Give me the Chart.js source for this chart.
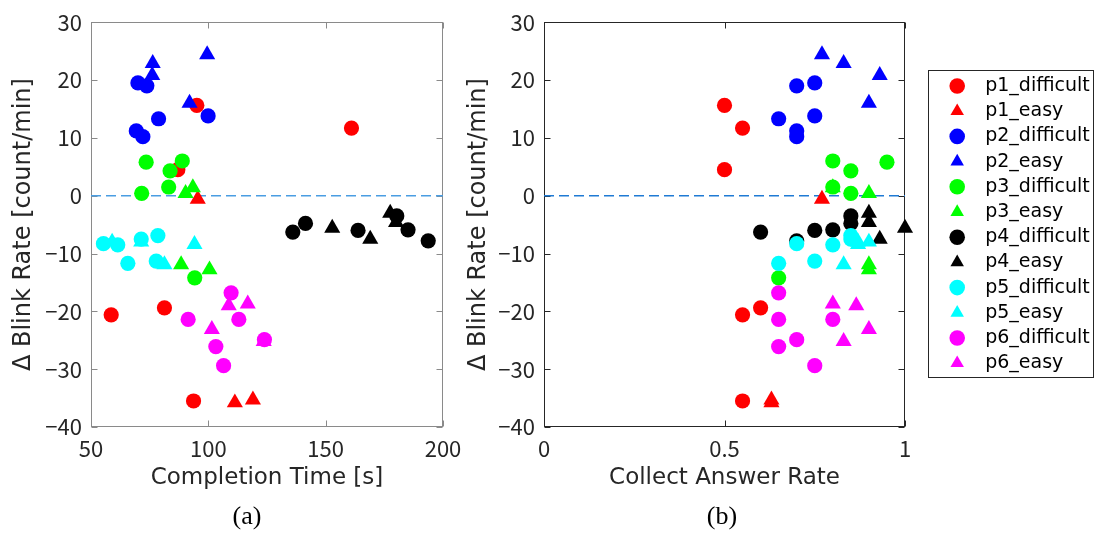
<!DOCTYPE html>
<html>
<head>
<meta charset="utf-8">
<script src="https://cdn.jsdelivr.net/npm/chart.js@4.4.1/dist/chart.umd.min.js"></script>
<style>
  html, body { margin: 0; padding: 0; background: #fff; }
  #wrap { position: relative; width: 1097px; height: 533px; overflow: hidden; }
  canvas { position: absolute; top: 0; }
  #grafico1 { left: 0; }
  #grafico2 { left: 450px; }
  .cap { position: absolute; top: 499px; width: 100px; text-align: center;
         font: 26px "Liberation Serif", "Times New Roman", serif; line-height: 34px; color: #000; }
</style>
</head>
<body>
<div id="wrap">
  <canvas id="grafico1" width="470" height="533"></canvas>
  <canvas id="grafico2" width="647" height="533"></canvas>
  <div class="cap" style="left:197px">(a)</div>
  <div class="cap" style="left:672px">(b)</div>
</div>
<script>
// series (same order as the legend)
const seriesNames = ['p1_difficult', 'p1_easy', 'p2_difficult', 'p2_easy', 'p3_difficult', 'p3_easy',
                     'p4_difficult', 'p4_easy', 'p5_difficult', 'p5_easy', 'p6_difficult', 'p6_easy'];
const seriesColors = ['#ff0000', '#ff0000', '#0000ff', '#0000ff', '#00ff00', '#00ff00',
                      '#000000', '#000000', '#00ffff', '#00ffff', '#ff00ff', '#ff00ff'];
const seriesShapes = ['circle', 'triangle', 'circle', 'triangle', 'circle', 'triangle',
                      'circle', 'triangle', 'circle', 'triangle', 'circle', 'triangle'];

// completion time [s], one row per series
const completionTime = [
  [95.1, 161, 87, 58.6, 81.3, 93.7],
  [95.5, 111.3, 119],
  [70, 73.8, 78.8, 99.9, 69.3, 72.1],
  [99.5, 76.3, 76.1, 92],
  [73.5, 88.9, 83.7, 83.1, 71.6, 94.2],
  [90.3, 93.4, 88.4, 100.5],
  [136, 141.4, 163.8, 180.3, 185.1, 193.7],
  [152.8, 169, 177.5, 180],
  [55.3, 61.4, 71.4, 78.5, 65.7, 77.8],
  [59, 71.4, 94.1, 81.3],
  [109.7, 91.4, 113, 103.2, 106.5, 123.9],
  [108.7, 116.8, 101.5, 123.6]
];

// collect answer rate
const answerRate = [
  [0.5, 0.55, 0.5, 0.55, 0.6, 0.55],
  [0.77, 0.63, 0.63],
  [0.75, 0.7, 0.65, 0.75, 0.7, 0.7],
  [0.77, 0.83, 0.93, 0.9],
  [0.95, 0.8, 0.85, 0.8, 0.85, 0.65],
  [0.9, 0.8, 0.9, 0.9],
  [0.6, 0.85, 0.75, 0.85, 0.8, 0.7],
  [1.0, 0.93, 0.9, 0.9],
  [0.7, 0.8, 0.85, 0.85, 0.65, 0.75],
  [0.9, 0.87, 0.87, 0.83],
  [0.65, 0.65, 0.8, 0.65, 0.75, 0.7],
  [0.865, 0.8, 0.9, 0.83]
];

// delta blink rate [count/min]
const blinkRate = [
  [15.6, 11.7, 4.5, -20.6, -19.4, -35.5],
  [-0.6, -35.8, -35.3],
  [19.5, 19.0, 13.3, 13.8, 11.2, 10.2],
  [24.4, 22.9, 20.8, 16],
  [5.8, 6.0, 4.3, 1.5, 0.4, -14.2],
  [0.4, 1.4, -11.9, -12.8],
  [-6.3, -4.8, -6.0, -3.5, -5.9, -7.8],
  [-5.6, -7.5, -3.0, -4.6],
  [-8.3, -8.5, -7.5, -6.9, -11.7, -11.3],
  [-8.0, -8.0, -8.4, -11.9],
  [-16.8, -21.4, -21.4, -26.1, -29.4, -24.9],
  [-19.0, -18.7, -23.1, -25.2]
];

// dashed reference line at zero
const zeroLineTimeX = [50, 200];
const zeroLineRateX = [0, 1];
const zeroLineY = [0, 0];

// axis ticks
const timeTicks = [50, 100, 150, 200];
const rateTicks = [0, 0.5, 1];
const blinkTicks = [30, 20, 10, 0, -10, -20, -30, -40];

const fuente = '"DejaVu Sans", Verdana, sans-serif';
const fuenteMarcas = '"Noto Sans CJK JP", "DejaVu Sans", sans-serif';
const textoColor = '#262626';
Chart.defaults.font.family = fuente;
Chart.defaults.color = textoColor;

const legendFontSize = 19;
const legendPadding = 6.2;
const legendMaxWidth = 150;

function armarDatasets(xData, lineX, lineColor) {
    const sets = seriesNames.map((nombre, i) => ({
        label: nombre,
        data: xData[i].map((x, j) => ({ x: x, y: blinkRate[i][j] })),
        pointStyle: seriesShapes[i],
        pointRadius: seriesShapes[i] === 'triangle' ? 9.3 : 7.6,
        pointHoverRadius: seriesShapes[i] === 'triangle' ? 9.3 : 7.6,
        backgroundColor: seriesColors[i],
        borderColor: seriesColors[i],
        borderWidth: 0,
        order: seriesNames.length - i,
        clip: false
    }));
    sets.push({
        label: '',
        data: lineX.map((x, j) => ({ x: x, y: zeroLineY[j] })),
        showLine: true,
        borderColor: lineColor,
        borderWidth: 1.6,
        borderDash: [10, 5],
        pointRadius: 0,
        order: 100
    });
    return sets;
}

const marco = {
    id: 'marco',
    beforeDatasetsDraw(chart, args, opts) {
        const { ctx, chartArea: a, scales } = chart;
        const l = Math.round(a.left) + 0.5, r = Math.round(a.right) - 0.5;
        const t = Math.round(a.top) + 0.5, b = Math.round(a.bottom) - 0.5;
        ctx.save();
        ctx.strokeStyle = opts.color;
        ctx.lineWidth = 1;
        ctx.strokeRect(l, t, r - l, b - t);
        ctx.beginPath();
        scales.x.ticks.forEach(tk => {
            const px = Math.round(scales.x.getPixelForValue(tk.value)) + 0.5;
            ctx.moveTo(px, b); ctx.lineTo(px, b - 6);
            ctx.moveTo(px, t); ctx.lineTo(px, t + 6);
        });
        scales.y.ticks.forEach(tk => {
            const py = Math.round(scales.y.getPixelForValue(tk.value)) + 0.5;
            ctx.moveTo(l, py); ctx.lineTo(l + 6, py);
            ctx.moveTo(r, py); ctx.lineTo(r - 6, py);
        });
        ctx.stroke();
        ctx.restore();
    }
};

const cajaLeyenda = {
    id: 'cajaLeyenda',
    afterDraw(chart) {
        const lg = chart.legend;
        if (!lg || !lg.legendHitBoxes || !lg.legendHitBoxes.length) return;
        const top = lg.legendHitBoxes[0].top - 7;
        const ctx = chart.ctx;
        ctx.save();
        ctx.strokeStyle = '#262626';
        ctx.lineWidth = 1;
        ctx.strokeRect(Math.round(lg.left) - 13.5, Math.round(top) + 0.5, 165, 307);
        ctx.restore();
    }
};

function ejeY(ancho, tituloPad) {
    return {
        type: 'linear',
        min: -40, max: 30,
        afterBuildTicks: s => { s.ticks = blinkTicks.map(v => ({ value: v })); },
        ticks: {
            padding: 9,
            font: { size: 22, family: fuenteMarcas },
            color: textoColor,
            callback: v => String(v).replace('-', '\u2212')
        },
        grid: { display: false, drawTicks: false },
        border: { display: false },
        title: {
            display: true,
            text: '\u0394 Blink Rate [count/min]',
            font: { size: 24 },
            color: textoColor,
            padding: { top: tituloPad, bottom: 0 }
        },
        afterFit: s => { s.width = ancho; }
    };
}

function ejeX(min, max, marcas, titulo) {
    return {
        type: 'linear',
        min: min, max: max,
        afterBuildTicks: s => { s.ticks = marcas.map(v => ({ value: v })); },
        ticks: {
            padding: 8, font: { size: 22, family: fuenteMarcas }, color: textoColor,
            maxRotation: 0, autoSkip: false,
            callback: v => String(v)
        },
        grid: { display: false, drawTicks: false },
        border: { display: false },
        title: {
            display: true,
            text: titulo,
            font: { size: 23 },
            color: textoColor,
            padding: { top: 0, bottom: 0 }
        },
        afterFit: s => { s.height = 65; }
    };
}

// grafica (a)
window.graficaTiempo = new Chart(document.getElementById('grafico1').getContext('2d'), {
    type: 'scatter',
    data: { datasets: armarDatasets(completionTime, zeroLineTimeX, '#4a9de2') },
    options: {
        responsive: false,
        animation: false,
        events: [],
        layout: { padding: { left: 0, top: 18, right: 27, bottom: 41 } },
        scales: {
            x: ejeX(50, 200, timeTicks, 'Completion Time [s]'),
            y: ejeY(91, 9)
        },
        plugins: {
            legend: { display: false },
            tooltip: { enabled: false },
            marco: { color: '#8a8a8a' }
        }
    },
    plugins: [marco]
});

// ancho de la leyenda para fijar el area del grafico (b)
const medidor = document.createElement('canvas').getContext('2d');
medidor.font = legendFontSize + 'px ' + fuente;
const textoMasAncho = Math.max(...seriesNames.map(n => medidor.measureText('\u2002' + n).width));
const anchoLeyenda = Math.min(legendMaxWidth, legendPadding + 18 + legendFontSize / 2 + textoMasAncho + 10);
const padDerecho = Math.max(0, 647 - 455 - 37 - anchoLeyenda);

// grafica (b)
window.graficaRespuestas = new Chart(document.getElementById('grafico2').getContext('2d'), {
    type: 'scatter',
    data: { datasets: armarDatasets(answerRate, zeroLineRateX, '#1f7ad4') },
    options: {
        responsive: false,
        animation: false,
        events: [],
        layout: { padding: { left: 0, top: 18, right: padDerecho, bottom: 41 } },
        scales: {
            x: ejeX(0, 1, rateTicks, 'Collect Answer Rate'),
            y: ejeY(94, 14),
            hueco: {
                type: 'linear', position: 'right', display: true,
                ticks: { display: false }, grid: { display: false, drawTicks: false },
                border: { display: false },
                afterFit: s => { s.width = 37; }
            }
        },
        plugins: {
            legend: {
                display: true,
                position: 'right',
                fullSize: false,
                maxWidth: legendMaxWidth,
                labels: {
                    usePointStyle: true,
                    boxWidth: 18,
                    boxHeight: 11,
                    padding: legendPadding,
                    color: '#000',
                    font: { size: legendFontSize },
                    generateLabels: chart => Chart.defaults.plugins.legend.labels.generateLabels(chart)
                        .filter(l => l.text !== '')
                        .sort((a, b) => a.datasetIndex - b.datasetIndex)
                        .map(l => Object.assign(l, { text: '\u2002' + l.text }))
                }
            },
            tooltip: { enabled: false },
            marco: { color: '#262626' }
        }
    },
    plugins: [marco, cajaLeyenda]
});
</script>
</body>
</html>
